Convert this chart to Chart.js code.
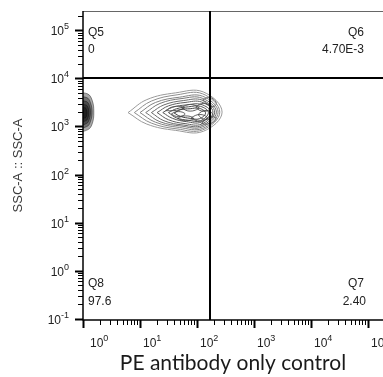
<!DOCTYPE html>
<html>
<head>
<meta charset="utf-8">
<script src="https://cdn.jsdelivr.net/npm/chart.js@4.4.1/dist/chart.umd.min.js"></script>
<style>
  body { margin: 0; background: #fff; }
  #wrap { width: 383px; height: 377px; }
</style>
</head>
<body>
<div id="wrap"><canvas id="plot"></canvas></div>
<script>
const xDecades = [0, 1, 2, 3, 4, 5];
const yDecades = [-1, 0, 1, 2, 3, 4, 5];
const quadrantNames = ['Q5', 'Q6', 'Q7', 'Q8'];
const quadrantValues = ['0', '4.70E-3', '2.40', '97.6'];
const gateX = 170;
const gateY = 10000;

// contour outlines as [log10 x, log10 y]
const mainContours = [
  [[0.79, 3.29], [1.12, 3.56], [1.62, 3.70], [2.11, 3.72], [2.44, 3.30], [2.11, 2.90], [1.62, 2.92], [1.12, 3.05], [0.79, 3.29]],
  [[0.90, 3.29], [1.20, 3.53], [1.65, 3.66], [2.10, 3.68], [2.40, 3.30], [2.10, 2.93], [1.65, 2.95], [1.20, 3.07], [0.90, 3.29]],
  [[1.00, 3.29], [1.27, 3.50], [1.69, 3.61], [2.10, 3.63], [2.37, 3.30], [2.10, 2.96], [1.69, 2.98], [1.27, 3.09], [1.00, 3.29]],
  [[1.10, 3.29], [1.35, 3.48], [1.72, 3.58], [2.09, 3.59], [2.34, 3.30], [2.09, 2.99], [1.72, 3.01], [1.35, 3.10], [1.10, 3.29]],
  [[1.20, 3.29], [1.42, 3.45], [1.76, 3.54], [2.09, 3.55], [2.31, 3.30], [2.09, 3.02], [1.76, 3.03], [1.42, 3.12], [1.20, 3.29]],
  [[1.30, 3.29], [1.50, 3.43], [1.79, 3.50], [2.08, 3.51], [2.28, 3.30], [2.08, 3.05], [1.79, 3.06], [1.50, 3.14], [1.30, 3.29]],
  [[1.40, 3.29], [1.57, 3.40], [1.82, 3.45], [2.07, 3.46], [2.24, 3.30], [2.07, 3.09], [1.82, 3.10], [1.57, 3.17], [1.40, 3.29]],
  [[1.50, 3.29], [1.64, 3.37], [1.85, 3.41], [2.06, 3.42], [2.20, 3.29], [2.06, 3.12], [1.85, 3.13], [1.64, 3.18], [1.50, 3.29]],
  [[1.60, 3.28], [1.71, 3.35], [1.88, 3.37], [2.04, 3.38], [2.15, 3.28], [2.04, 3.16], [1.88, 3.17], [1.71, 3.21], [1.60, 3.28]]
];

const coreContours = [
  [[1.73, 3.39], [1.80, 3.44], [1.88, 3.46], [1.97, 3.44], [2.03, 3.39], [1.97, 3.34], [1.88, 3.32], [1.80, 3.34], [1.73, 3.39]],
  [[1.90, 3.18], [1.97, 3.23], [2.05, 3.25], [2.13, 3.23], [2.18, 3.18], [2.13, 3.13], [2.05, 3.11], [1.97, 3.13], [1.90, 3.18]],
  [[1.55, 3.26], [1.61, 3.30], [1.67, 3.31], [1.74, 3.30], [1.79, 3.26], [1.74, 3.22], [1.67, 3.21], [1.61, 3.22], [1.55, 3.26]],
  [[1.98, 3.40], [2.04, 3.46], [2.12, 3.48], [2.20, 3.46], [2.26, 3.40], [2.20, 3.34], [2.12, 3.32], [2.04, 3.34], [1.98, 3.40]],
  [[1.66, 3.17], [1.73, 3.21], [1.80, 3.22], [1.88, 3.21], [1.94, 3.17], [1.88, 3.13], [1.80, 3.12], [1.73, 3.13], [1.66, 3.17]],
  [[2.02, 3.25], [2.08, 3.31], [2.16, 3.33], [2.24, 3.30], [2.28, 3.24], [2.23, 3.17], [2.15, 3.15], [2.07, 3.18], [2.02, 3.25]],
  [[1.45, 3.33], [1.55, 3.40], [1.68, 3.42], [1.78, 3.39], [1.70, 3.35], [1.58, 3.33], [1.45, 3.33]],
  [[2.10, 3.55], [2.18, 3.60], [2.28, 3.58], [2.34, 3.48], [2.30, 3.42], [2.20, 3.45], [2.10, 3.55]],
  [[2.08, 3.06], [2.18, 3.05], [2.30, 3.10], [2.33, 3.18], [2.25, 3.20], [2.15, 3.14], [2.08, 3.06]]
];

// events piled up at the low end of the PE axis
const edgeContours = [
  [[-0.1, 3.70], [0.08, 3.68], [0.16, 3.55], [0.19, 3.30], [0.16, 3.05], [0.08, 2.93], [-0.1, 2.92], [-0.1, 3.70]],
  [[-0.1, 3.62], [0.07, 3.60], [0.13, 3.50], [0.16, 3.30], [0.13, 3.10], [0.07, 3.00], [-0.1, 2.98], [-0.1, 3.62]],
  [[-0.1, 3.54], [0.06, 3.52], [0.11, 3.44], [0.13, 3.30], [0.11, 3.15], [0.06, 3.06], [-0.1, 3.04], [-0.1, 3.54]],
  [[-0.1, 3.46], [0.05, 3.45], [0.09, 3.39], [0.10, 3.29], [0.09, 3.19], [0.05, 3.12], [-0.1, 3.10], [-0.1, 3.46]],
  [[-0.1, 3.40], [0.04, 3.39], [0.06, 3.35], [0.07, 3.28], [0.06, 3.21], [0.04, 3.18], [-0.1, 3.17], [-0.1, 3.40]]
];

const mainShades = ['#9a9a9a', '#8e8e8e', '#828282', '#767676', '#6a6a6a', '#5e5e5e', '#545454', '#4a4a4a', '#404040'];

function toPoints(outline) {
  return outline.map(([lx, ly]) => ({ x: 10 ** lx, y: 10 ** ly }));
}

function contourSet(list, style) {
  return list.map((outline, i) => Object.assign({
    data: toPoints(outline),
    showLine: true,
    pointRadius: 0,
    tension: 0.4,
    borderWidth: 1,
    fill: false,
    clip: 0
  }, typeof style === 'function' ? style(i) : style));
}

const datasets = [
  ...contourSet(edgeContours, { borderColor: 'rgba(0,0,0,0.4)', backgroundColor: 'rgba(0,0,0,0.34)', fill: 'shape' }),
  ...contourSet(mainContours, (i) => ({ borderColor: mainShades[i] })),
  ...contourSet(coreContours, { borderColor: 'rgba(60,60,60,0.8)' })
];

const baseFont = '12px "Liberation Sans Narrow", "Liberation Sans", Arial, sans-serif';
const supFont = '9px "Liberation Sans Narrow", "Liberation Sans", Arial, sans-serif';
const quadFont = '12px "Liberation Sans", Arial, sans-serif';

function drawPower(ctx, exp, x, baseline, align) {
  ctx.font = baseFont;
  const wb = ctx.measureText('10').width;
  ctx.font = supFont;
  const ws = ctx.measureText(String(exp)).width;
  const left = align === 'right' ? x - wb - ws : x;
  ctx.font = baseFont;
  ctx.fillText('10', left, baseline);
  ctx.font = supFont;
  ctx.fillText(String(exp), left + wb, baseline - 6);
}

function line(ctx, x1, y1, x2, y2) {
  ctx.beginPath();
  ctx.moveTo(x1, y1);
  ctx.lineTo(x2, y2);
  ctx.stroke();
}

const flowAxes = {
  id: 'flowAxes',
  afterDatasetsDraw(chart) {
    const { ctx, chartArea: a, scales: { x, y } } = chart;
    ctx.save();
    ctx.textAlign = 'left';
    ctx.textBaseline = 'alphabetic';

    // frame
    ctx.strokeStyle = '#666';
    ctx.lineWidth = 1;
    line(ctx, a.left, a.top + 0.5, a.right, a.top + 0.5);
    ctx.strokeStyle = '#000';
    ctx.lineWidth = 1.5;
    line(ctx, a.left, a.top, a.left, a.bottom + 0.5);
    line(ctx, a.left, a.bottom, a.right, a.bottom);

    // gates
    const gx = Math.round(x.getPixelForValue(gateX));
    const gy = Math.round(y.getPixelForValue(gateY));
    ctx.lineWidth = 2;
    line(ctx, gx, a.top, gx, a.bottom);
    line(ctx, a.left, gy, a.right, gy);

    // ticks
    ctx.fillStyle = '#222';
    xDecades.forEach((d) => {
      for (let m = 1; m <= 9; m++) {
        const v = m * 10 ** d;
        if (v > x.max) break;
        const px = Math.round(x.getPixelForValue(v)) + 0.5;
        ctx.lineWidth = m === 1 ? 2 : 1;
        line(ctx, px, a.bottom, px, a.bottom + (m === 1 ? 8 : 5));
      }
      const px = x.getPixelForValue(10 ** d);
      drawPower(ctx, d, Math.max(px + 3, a.left + 7), a.bottom + 27, 'left');
    });
    yDecades.forEach((d) => {
      for (let m = 1; m <= 9; m++) {
        const v = m * 10 ** d;
        if (v > y.max) break;
        const py = Math.round(y.getPixelForValue(v)) + 0.5;
        ctx.lineWidth = m === 1 ? 2 : 1;
        line(ctx, a.left - (m === 1 ? 8 : 5), py, a.left, py);
      }
      drawPower(ctx, d, 69, y.getPixelForValue(10 ** d) + 5, 'right');
    });

    // quadrant statistics
    ctx.font = quadFont;
    ctx.fillStyle = '#222';
    ctx.textAlign = 'left';
    ctx.fillText(quadrantNames[0], a.left + 5, a.top + 25);
    ctx.fillText(quadrantValues[0], a.left + 5, a.top + 42);
    ctx.fillText(quadrantNames[3], a.left + 5, a.bottom - 33);
    ctx.fillText(quadrantValues[3], a.left + 5, a.bottom - 15);
    ctx.textAlign = 'right';
    ctx.fillText(quadrantNames[1], a.right - 19, a.top + 25);
    ctx.fillText(quadrantValues[1], a.right - 19, a.top + 42);
    ctx.fillText(quadrantNames[2], a.right - 19, a.bottom - 33);
    ctx.fillText(quadrantValues[2], a.right - 17, a.bottom - 15);
    ctx.restore();
  }
};

new Chart(document.getElementById('plot'), {
  type: 'scatter',
  data: { datasets },
  options: {
    responsive: true,
    maintainAspectRatio: false,
    animation: false,
    layout: { padding: { top: 11, right: 0, bottom: 0, left: 0 } },
    plugins: { legend: { display: false }, tooltip: { enabled: false } },
    scales: {
      x: {
        type: 'logarithmic',
        min: 1,
        max: 10 ** 5.263,
        grid: { display: false },
        border: { display: false },
        ticks: { display: false },
        title: {
          display: true,
          text: 'PE antibody only control',
          color: '#1a1a1a',
          font: { family: 'Lato', size: 21, lineHeight: 1.1 },
          padding: { top: 0, bottom: 2 }
        },
        afterFit(scale) { scale.height = 57; }
      },
      y: {
        type: 'logarithmic',
        min: 10 ** -1.031,
        max: 10 ** 5.406,
        grid: { display: false },
        border: { display: false },
        ticks: { display: false },
        title: {
          display: true,
          text: 'SSC-A :: SSC-A',
          color: '#3a3a3a',
          font: { family: '"Liberation Sans", Arial, sans-serif', size: 13, lineHeight: 1.2 },
          padding: { top: 11, bottom: 0 }
        },
        afterFit(scale) { scale.width = 83; }
      }
    }
  },
  plugins: [flowAxes]
});
</script>
</body>
</html>
